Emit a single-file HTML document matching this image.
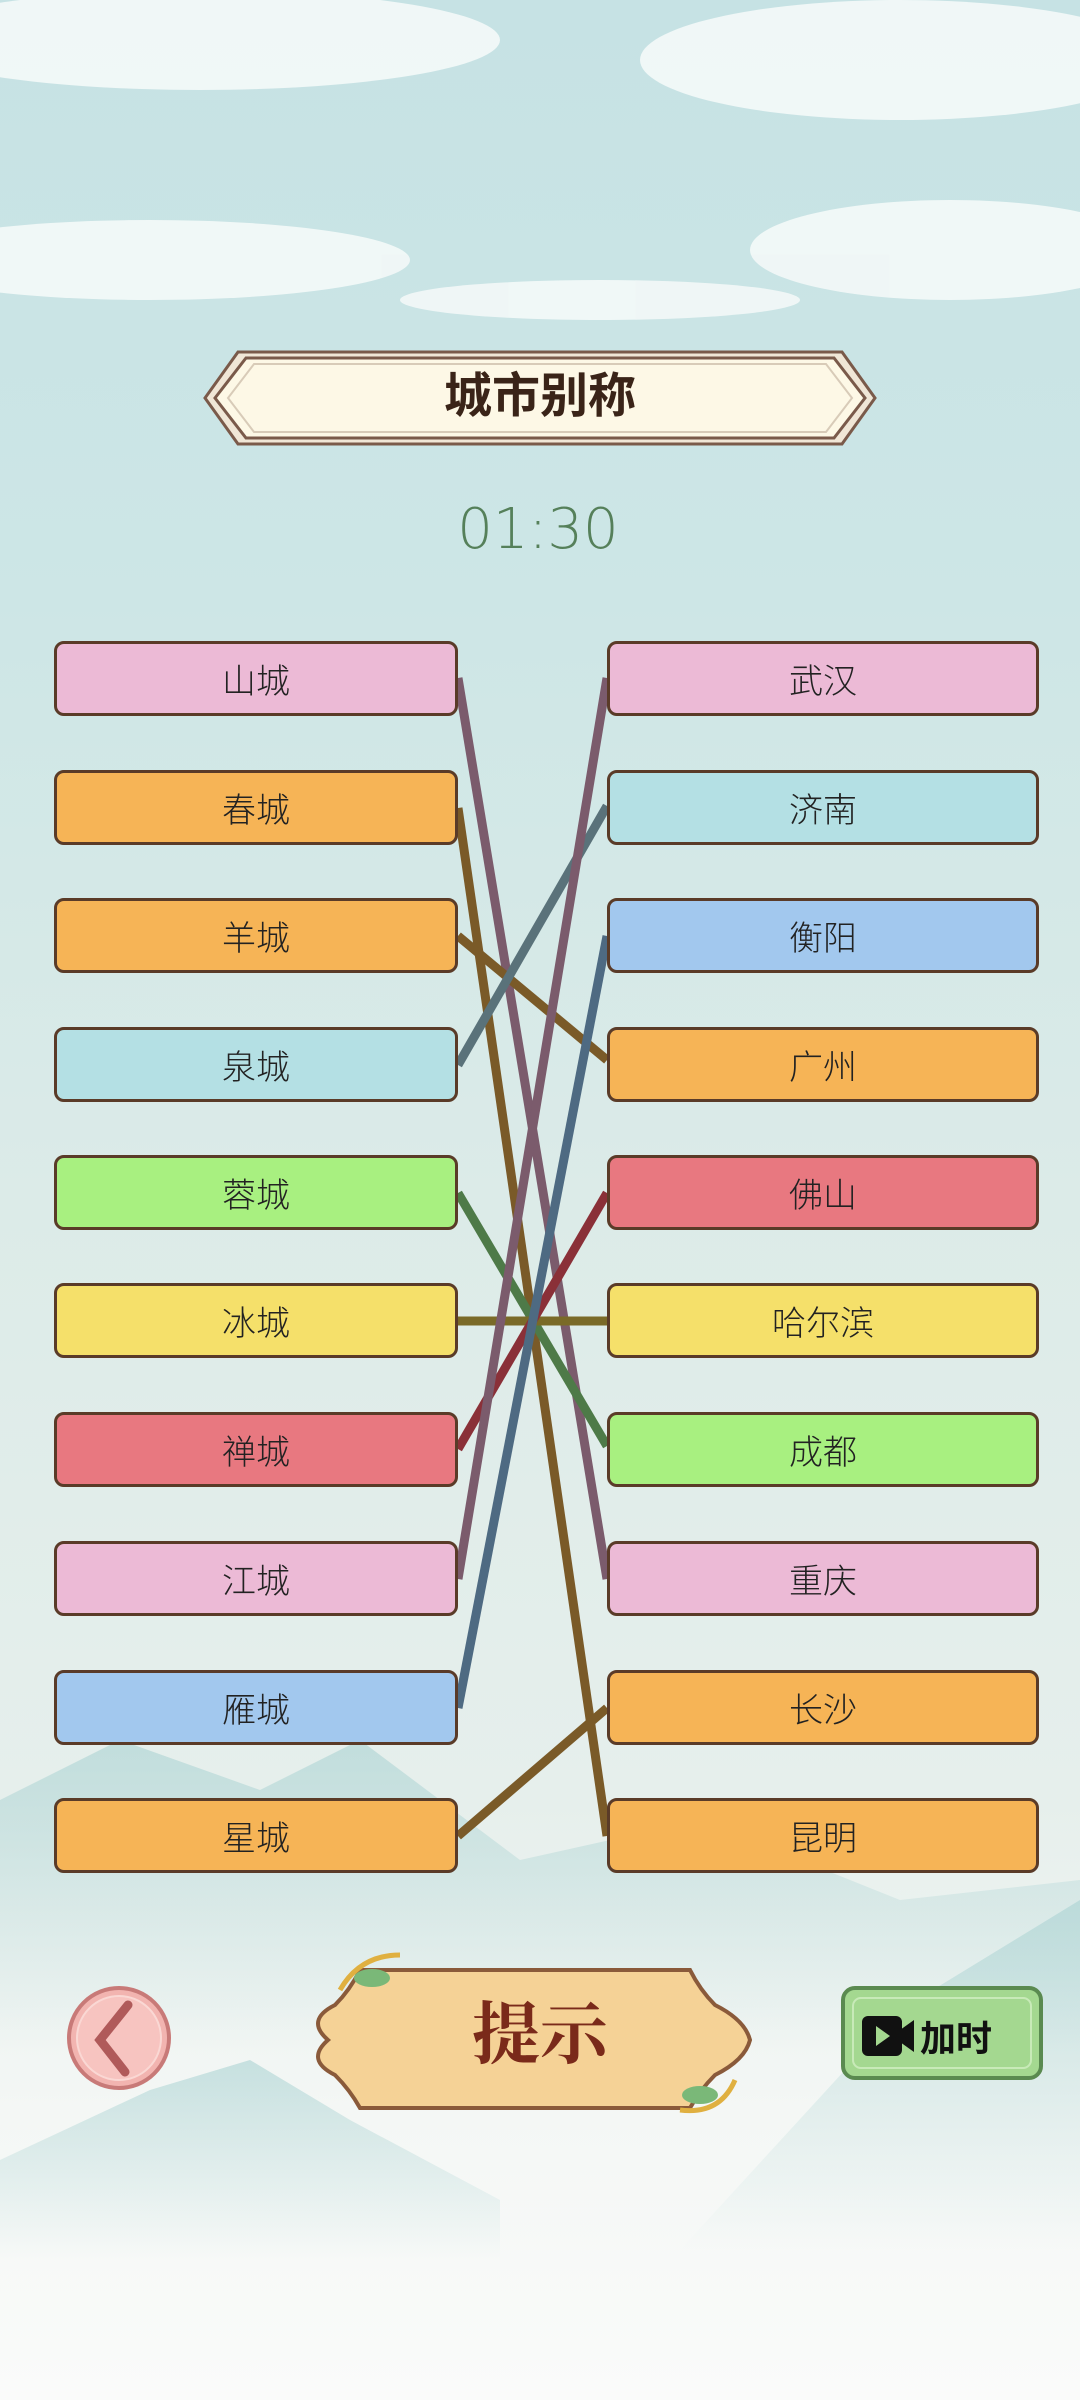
<!DOCTYPE html>
<html><head><meta charset="utf-8"><style>
body{margin:0;width:1080px;height:2400px;overflow:hidden;font-family:"Liberation Sans","Noto Sans CJK SC",sans-serif;}
#bg{position:absolute;left:0;top:0;width:1080px;height:2400px;background:linear-gradient(#c6e2e4 0%,#cde6e6 25%,#dcebe8 50%,#e6efec 75%,#f4f7f5 88%,#fafbfa 100%);}
.box{position:absolute;height:69px;border:3px solid #5a3b28;border-radius:10px;display:flex;align-items:center;justify-content:center;font-size:34px;font-weight:300;color:#222;box-sizing:content-box;font-family:"Noto Sans CJK SC",sans-serif}
.L{left:54px;width:398px}.R{left:607px;width:426px}
.pk{background:#ecbad6}.or{background:#f6b456}.cy{background:#b4e0e4}.gr{background:#a8f080}.ye{background:#f5e06a}.rd{background:#e87880}.bl{background:#a2c8ee}
</style></head><body>
<div id="bg"></div>
<svg width="1080" height="2400" style="position:absolute;left:0;top:0">
<defs>
<linearGradient id="mt" x1="0" y1="0" x2="0" y2="1">
<stop offset="0" stop-color="#a9d2d2" stop-opacity="0.6"/>
<stop offset="1" stop-color="#a9d2d2" stop-opacity="0"/>
</linearGradient>
</defs>
<g fill="#f4f9f8" opacity="0.9">
<ellipse cx="200" cy="40" rx="300" ry="50"/><ellipse cx="900" cy="60" rx="260" ry="60"/>
<ellipse cx="150" cy="260" rx="260" ry="40"/><ellipse cx="950" cy="250" rx="200" ry="50"/>
<ellipse cx="600" cy="300" rx="200" ry="20"/>
</g>
<g fill="url(#mt)">
<path d="M0 1800 L120 1740 L260 1790 L360 1740 L520 1860 L700 1820 L900 1900 L1080 1880 L1080 2050 L0 2050Z"/>
<path d="M680 2250 L900 2010 L1080 1900 L1080 2250Z"/>
<path d="M0 2160 L150 2090 L250 2060 L350 2120 L500 2200 L500 2260 L0 2260Z"/>
</g>
<g stroke-width="9" stroke-linecap="butt">
<line x1="458" y1="678" x2="607" y2="1579" stroke="#7b5b6c"/>
<line x1="458" y1="808" x2="607" y2="1836" stroke="#7a5a28"/>
<line x1="458" y1="936" x2="607" y2="1060" stroke="#7a5a28"/>
<line x1="458" y1="1065" x2="607" y2="806" stroke="#5a727a"/>
<line x1="458" y1="1193" x2="607" y2="1446" stroke="#4e7a48"/>
<line x1="458" y1="1321" x2="607" y2="1321" stroke="#7a6a28"/>
<line x1="458" y1="1449" x2="607" y2="1193" stroke="#8a3038"/>
<line x1="458" y1="1579" x2="607" y2="678" stroke="#7b5b6c"/>
<line x1="458" y1="1708" x2="607" y2="936" stroke="#4e6a82"/>
<line x1="458" y1="1836" x2="607" y2="1708" stroke="#7a5a28"/>
</g>
<g>
<polygon points="205,398 238,352 842,352 875,398 842,444 238,444" fill="#f0e6d6" stroke="#7a5a4a" stroke-width="3"/>
<polygon points="215,398 246,358 834,358 865,398 834,438 246,438" fill="#fdf8e6" stroke="#7a5a4a" stroke-width="3"/>
<polygon points="228,398 254,364 826,364 852,398 826,432 254,432" fill="none" stroke="#d8cbb8" stroke-width="2"/>
</g>
<text x="540" y="412" font-size="48" font-weight="bold" text-anchor="middle" fill="#3a2418" font-family="Liberation Sans,Noto Sans CJK SC,sans-serif">城市别称</text>
<text x="538" y="548" font-size="56" text-anchor="middle" fill="#55805a" font-family="DejaVu Sans,sans-serif" font-weight="200">01:30</text>
<circle cx="119" cy="2038" r="50" fill="#f2b4b0" stroke="#c87a78" stroke-width="4"/>
<circle cx="119" cy="2038" r="42" fill="#f7c4c0" stroke="#fad8d4" stroke-width="2"/>
<path d="M128 2005 L100 2040 L125 2072" fill="none" stroke="#b05a5a" stroke-width="9" stroke-linecap="round"/>
<path d="M360 1970 L690 1970 Q700 1990 715 2005 Q745 2020 750 2040 Q745 2060 715 2075 Q700 2090 690 2108 L360 2108 Q350 2090 335 2075 Q305 2060 328 2040 Q305 2020 335 2005 Q350 1990 360 1970Z" fill="#f5d296" stroke="#8a5a3a" stroke-width="4"/>
<text x="540" y="2058" font-size="68" font-weight="bold" text-anchor="middle" fill="#7a2a1a" font-family="Noto Serif CJK SC,serif">提示</text>
<path d="M340 1990 Q360 1955 400 1955" stroke="#e0b040" stroke-width="5" fill="none"/>
<ellipse cx="372" cy="1978" rx="18" ry="9" fill="#7ab878"/>
<path d="M680 2110 Q720 2115 735 2080" stroke="#e0b040" stroke-width="5" fill="none"/>
<ellipse cx="700" cy="2095" rx="18" ry="9" fill="#7ab878"/>
<rect x="843" y="1988" width="198" height="90" rx="12" fill="#a4d890" stroke="#5a8a50" stroke-width="4"/>
<rect x="853" y="1998" width="178" height="70" rx="8" fill="none" stroke="#c8eab8" stroke-width="2"/>
<rect x="862" y="2016" width="40" height="40" rx="6" fill="#111"/>
<polygon points="900,2030 914,2020 914,2052 900,2042" fill="#111"/>
<polygon points="876,2026 890,2036 876,2046" fill="#a4d890"/>
</svg>
<div style="position:absolute;left:920px;top:2010px;font-size:36px;font-weight:bold;color:#111">加时</div>
<div class="box L pk" style="top:641px">山城</div>
<div class="box L or" style="top:770px">春城</div>
<div class="box L or" style="top:898px">羊城</div>
<div class="box L cy" style="top:1027px">泉城</div>
<div class="box L gr" style="top:1155px">蓉城</div>
<div class="box L ye" style="top:1283px">冰城</div>
<div class="box L rd" style="top:1412px">禅城</div>
<div class="box L pk" style="top:1541px">江城</div>
<div class="box L bl" style="top:1670px">雁城</div>
<div class="box L or" style="top:1798px">星城</div>
<div class="box R pk" style="top:641px">武汉</div>
<div class="box R cy" style="top:770px">济南</div>
<div class="box R bl" style="top:898px">衡阳</div>
<div class="box R or" style="top:1027px">广州</div>
<div class="box R rd" style="top:1155px">佛山</div>
<div class="box R ye" style="top:1283px">哈尔滨</div>
<div class="box R gr" style="top:1412px">成都</div>
<div class="box R pk" style="top:1541px">重庆</div>
<div class="box R or" style="top:1670px">长沙</div>
<div class="box R or" style="top:1798px">昆明</div>
</body></html>
